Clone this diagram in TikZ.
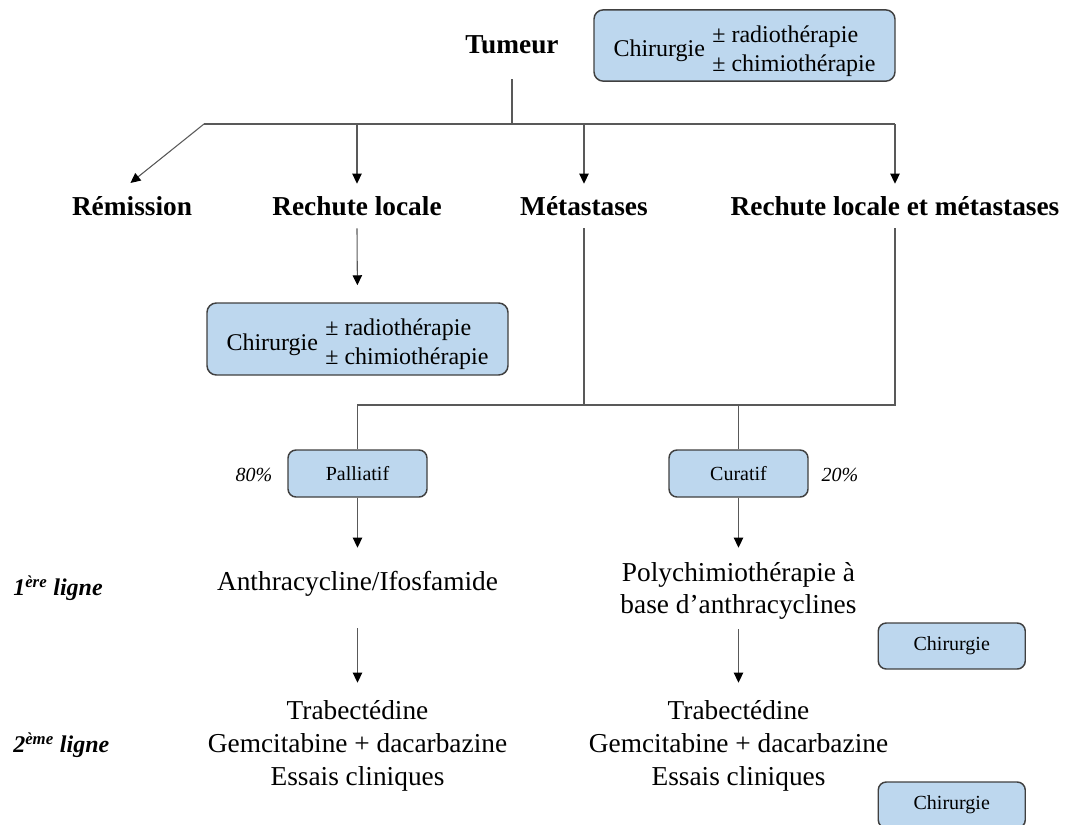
\documentclass[tikz,border=0pt]{standalone}
\usepackage{fontspec}
\setmainfont{Liberation Serif}
\usetikzlibrary{arrows.meta}
\definecolor{boxfill}{HTML}{BDD7EE}
\definecolor{boxline}{HTML}{404040}
\definecolor{linegray}{HTML}{595959}
\begin{document}
\begin{tikzpicture}[x=0.75pt,y=-0.75pt,
  head/.style={font=\fontsize{20.5}{24}\selectfont\bfseries, inner sep=0pt, minimum height=36pt},
  body/.style={font=\fontsize{20.5}{25}\selectfont, align=center, inner sep=0pt},
  bigbox/.style={draw=boxline, fill=boxfill, line width=1.1pt, rounded corners=7pt,
    minimum width=225.75pt, minimum height=53.5pt, inner sep=0pt,
    text height=30pt, text depth=13.5pt,
    font=\fontsize{18}{21.75}\selectfont},
  smallbox/.style={draw=boxline, fill=boxfill, line width=1.1pt, rounded corners=6pt,
    inner sep=0pt, font=\fontsize{15}{18}\selectfont},
  pct/.style={font=\fontsize{15}{18}\selectfont\itshape, inner sep=0pt},
  lab/.style={font=\fontsize{18}{22}\selectfont\bfseries\itshape, inner sep=0pt, anchor=west},
  conn/.style={draw=linegray, line width=0.8pt},
  arr/.style={conn, -{Triangle[length=7.5pt,width=7pt,color=black]}}
]
\useasboundingbox (0,0) rectangle (1065,825);

% top
\node[head] (tum) at (512,45) {Tumeur};
\node[bigbox] (b1) at (744.5,45.5) {Chirurgie\hspace{5.5pt}\begin{tabular}{@{}l@{}}± radiothérapie\\± chimiothérapie\end{tabular}\hspace{6pt}};

% level 1
\node[head] (rem) at (132,206) {Rémission};
\node[head] (rl)  at (357,206) {Rechute locale};
\node[head] (met) at (584,206) {Métastases};
\node[head] (rlm) at (895,206) {Rechute locale et métastases};

\coordinate (j1) at (512,124);
\coordinate (jl) at (204,124);
\coordinate (jr) at (895,124);

\draw[conn, shorten <=7.5pt] (tum.south) -- (j1);
\draw[conn] (jl) -- (jr);
\draw[arr, shorten >=-1.5pt] (jl) -- (rem.north);
\draw[arr, shorten >=-1.5pt] (rl.north |- j1) -- (rl.north);
\draw[arr, shorten >=-1.5pt] (met.north |- j1) -- (met.north);
\draw[arr, shorten >=-1.5pt] (jr) -- (rlm.north);

% local relapse treatment
\node[bigbox, minimum height=54pt] (b2) at (357.5,339) {Chirurgie\hspace{5.5pt}\begin{tabular}{@{}l@{}}± radiothérapie\\± chimiothérapie\end{tabular}\hspace{6pt}};
\draw[arr, shorten <=-1.5pt, shorten >=12.75pt] (rl.south) -- (b2.north);

% metastases branch
\node[smallbox, minimum width=104.25pt, minimum height=35.25pt] (pal) at (357.5,473.5) {Palliatif};
\node[smallbox, minimum width=104.25pt, minimum height=35.25pt] (cur) at (738.5,473.5) {Curatif};
\node[pct] (p80) at (254,475) {80\%};
\node[pct] (p20) at (840,475) {20\%};

\coordinate (j2l) at (357.5,405);
\coordinate (j2r) at (895,405);
\draw[conn, shorten <=-1.5pt] (met.south) -- (met.south |- j2l);
\draw[conn, shorten <=-1.5pt] (rlm.south) -- (j2r) -- (j2l) -- (pal.north);
\draw[conn] (cur.north |- j2l) -- (cur.north);

% first line
\node[body, minimum height=52.5pt] (anth) at (357.5,584) {Anthracycline/Ifosfamide};
\node[body, minimum height=60pt, font=\fontsize{20.5}{24}\selectfont] (poly) at (738.5,591) {Polychimiothérapie à\\base d’anthracyclines};
\draw[arr, shorten >=0.75pt] (pal.south) -- (anth.north);
\draw[arr, shorten >=2.25pt] (cur.south) -- (poly.north);

% second line
\node[body, minimum height=93pt] (tl) at (357.5,746) {Trabectédine\\Gemcitabine + dacarbazine\\Essais cliniques};
\node[body, minimum height=93pt] (tr) at (738.5,746) {Trabectédine\\Gemcitabine + dacarbazine\\Essais cliniques};
\draw[arr, shorten <=6.75pt, shorten >=0.75pt] (anth.south) -- (tl.north);
\draw[arr, shorten <=-1.5pt, shorten >=0.75pt] (poly.south) -- (tr.north);

% surgery boxes
\node[smallbox, minimum width=110.25pt, minimum height=34.5pt] (ch1) at (951.75,646) {Chirurgie};
\node[smallbox, minimum width=110.25pt, minimum height=34.5pt] (ch2) at (951.75,805) {Chirurgie};

% line labels
\node[lab] (l1) at (13,588) {1\textsuperscript{ère} ligne};
\node[lab] (l2) at (13,745) {2\textsuperscript{ème} ligne};
\end{tikzpicture}
\end{document}
